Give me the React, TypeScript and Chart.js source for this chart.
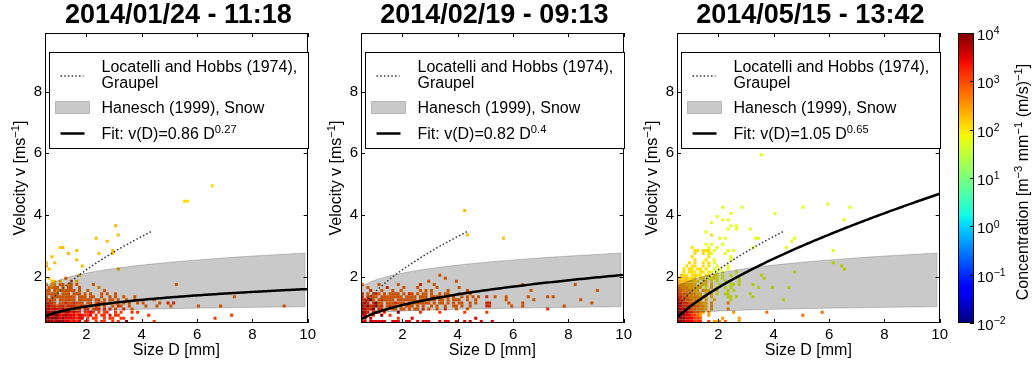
import { useEffect, useRef } from 'react';
import { Chart, registerables } from 'chart.js';

Chart.register(...registerables);

const FONT = '"Liberation Sans", Arial, Helvetica, sans-serif';
Chart.defaults.font.family = FONT;
Chart.defaults.color = '#000';

// ---------------- data ----------------
const TITLES = ['2014/01/24 - 11:18', '2014/02/19 - 09:13', '2014/05/15 - 13:42'];
const FIT_A = [0.86, 0.82, 1.05];
const FIT_B = [0.27, 0.4, 0.65];

const X_TICKS = [2, 4, 6, 8, 10];
const Y_TICKS = [2, 4, 6, 8];
const X_RANGE = [0.5, 10];
const Y_RANGE = [0.5, 9.9];
const CBAR_EXP = [-2, -1, 0, 1, 2, 3, 4];

// Hanesch (1999) snow: lower / upper power laws v = a D^b
const HANESCH_LOW = [0.83, 0.093];
const HANESCH_HIGH = [1.886, 0.167];
const HANESCH_SPAN = [0.5, 9.9];
// Locatelli and Hobbs (1974) graupel
const LOCATELLI = [1.5, 0.57];
const LOCATELLI_SPAN = [0.5, 4.4];

// log10 concentration for each cell code
const LEVEL: Record<string, number> = { D: 3.9, R: 3.5, r: 3.15, o: 2.8, a: 2.5, g: 2.25, y: 2.05, l: 1.75 };
const GRID_X0 = 0.55;
const BIN = 0.1;

// histogram rows, top row first; column j sits at D = 0.55 + 0.1 j
const P1_TOP = 1.95;
const P1_ROWS = [
  '.g.....o',
  '..gg.g...o.g',
  'o.ga.oo.ao.o.....o',
  '.oaoo.o.oo..o......a',
  'oo.oaoooooo.o..o.....o',
  'ooooo.ooo.ooo.o.o...o.o..o',
  'o.ooooooooo.ooo.oo..o..o.o..o...o',
  'rooo.oooooo.ooooo.oo.o.oo.o..o..o......o',
  'rrro.ooroorooo.oo.oroo.o.oo.o.o..o.o.....o',
  'rRrrorrorrrooro.o.ro.o..o.ro..o.....o...o',
  'RRrRrrRrrrror.rr.orr.r.r.o..r..o........',
  'DRRDRRrRRrRrr.rrRr.r.rr..r.r...r.r......',
  'DDRDDRRDRRRrRRrrR.r.rr.R.rr..........r..',
  'DDDDDRDRRRRrRR.r.rr..r.rr..rr..r........',
  'DDDRDDDRRrRrR.rr..r.rr..r.r..D.........r',
];
const P1_SPARSE: [number, number, string][] = [
  [6.55, 4.95, 'y'], [5.55, 4.45, 'y'], [5.65, 4.45, 'y'],
  [3.05, 3.65, 'g'], [3.15, 3.35, 'g'], [2.35, 3.25, 'g'], [2.75, 3.15, 'g'],
  [2.95, 2.85, 'g'], [2.95, 2.75, 'g'], [2.45, 2.75, 'g'],
  [1.05, 2.95, 'g'], [1.15, 2.95, 'g'], [0.75, 2.65, 'g'], [0.85, 2.45, 'g'],
  [1.35, 2.75, 'g'], [1.65, 2.85, 'g'], [1.65, 2.55, 'g'], [1.85, 2.35, 'g'],
  [0.55, 2.35, 'a'], [0.55, 2.45, 'g'], [0.65, 2.25, 'g'], [3.15, 2.25, 'g'], [1.75, 2.05, 'g'],
  [5.25, 1.75, 'o'], [4.95, 1.15, 'r'], [5.15, 1.15, 'r'], [5.05, 1.05, 'o'], [6.05, 1.05, 'o'],
  [6.85, 1.05, 'o'], [7.35, 1.35, 'o'], [9.15, 1.05, 'o'], [6.65, 0.65, 'r'], [7.25, 0.75, 'r'],
];

const P2_TOP = 2.05;
const P2_ROWS = [
  '............................o',
  '..............................o',
  '........................o.........o',
  'o.....o......o.......r....o',
  '..o......r.....o....o......o.......o',
  '...r...o...o..o......o.o.o.....o......o',
  'r.o.oro.o.oooo.o.ro.o.oo.o..o.oo...o...o',
  'r.rooo.oooooooo.oooo.ooo.oooo.oo.o..o.o.o.o',
  'rrrDo.oroooo.ooooooo.oooooo.oo.o.ooo..o..o',
  'rRr.rDoo.ooorooo.oooooooo.o.oo.o.o.oo..o.o',
  'RrDrrDor.oroo.o.ooo.o.o..o.o..o..oo.o..o',
  'RRrrD.rr.o.oo.oo.o.oo.r.o..o..r...o...o',
  'DRr.rDr.r....D.......r......r........r',
  'RR..r..D..r',
  '.R.R.........r....R......................R',
  'RR.RRRRRR..RRR..RR..R.RRR...R.RR..R..R.R...R',
];
const P2_SPARSE: [number, number, string][] = [
  [4.25, 4.15, 'g'], [4.35, 3.35, 'g'], [5.65, 3.25, 'g'],
  [6.35, 1.75, 'o'], [8.25, 1.75, 'o'], [9.05, 1.55, 'o'], [6.65, 1.55, 'o'], [6.55, 1.35, 'o'],
  [6.75, 1.25, 'o'], [7.25, 1.35, 'o'], [7.45, 1.35, 'o'], [5.75, 1.35, 'o'], [5.75, 1.25, 'o'],
  [5.85, 1.15, 'o'], [5.95, 1.05, 'o'], [6.35, 1.15, 'o'], [6.35, 1.05, 'o'], [5.35, 1.35, 'o'],
  [5.05, 1.35, 'r'], [5.05, 1.15, 'r'], [5.15, 1.15, 'r'], [5.05, 1.05, 'r'], [5.15, 1.05, 'r'],
  [5.05, 0.85, 'r'], [7.25, 0.95, 'r'], [7.85, 1.05, 'o'], [8.45, 1.25, 'o'], [8.85, 1.15, 'o'],
  [5.25, 0.55, 'R'],
];

const P3_TOP = 3.05;
const P3_ROWS = [
  '..........l.l',
  '.....y.....l..l',
  '......yy.yyy.l....l.l',
  '......y..y.yl....l',
  '.....y.....y.......l',
  '......y...y..l.....l',
  '....y.y..y.y.l',
  '...y.yy..y.y..l...l',
  '..y.yy.yy.y..l.l..l',
  '..y.yyy.yy.yl.l.l....l',
  '.gyy.yyyy.yy.yl.l..l',
  'ggggyyg.yy.llyl.l...l.l',
  'agggggyy.yg.y.l..l.l..l',
  'aaagggg.ygy.g..l...ll.l',
  'oaaaggggg.l.g.l..l.l',
  'ooaaaagg.agg..l...l.l',
  'roooaaagg.g.g.l..ll',
  'rrooaaaagag.g.....ll.l',
  'Rrrooaaag.g..g.....l',
  'RRrrooaaagg.a.....a',
  'RRrrroooaag.a',
  'DRRrrooaaag.a.....a',
  'DDRRrrooaa.a........a',
  'DDDRRrroa..a',
  'DDDRRRrro.......a.....a',
  'DDDRRRrrr..r.aga.o....a',
];
const P3_SPARSE: [number, number, string][] = [
  [3.55, 5.95, 'l'], [2.15, 4.25, 'l'], [2.45, 4.05, 'l'], [2.85, 4.25, 'l'], [4.05, 4.05, 'l'],
  [5.05, 4.25, 'l'], [5.95, 4.35, 'l'], [6.75, 4.25, 'l'], [6.55, 3.85, 'l'], [1.95, 3.95, 'l'],
  [1.75, 3.75, 'l'], [2.15, 3.85, 'l'], [2.35, 3.85, 'l'], [2.35, 3.55, 'l'], [2.45, 3.65, 'l'],
  [2.65, 3.65, 'l'], [2.65, 3.55, 'l'], [3.15, 3.55, 'l'], [1.55, 3.45, 'l'], [1.75, 3.35, 'y'],
  [2.05, 3.25, 'l'], [2.25, 3.25, 'l'], [3.35, 3.25, 'l'], [3.45, 3.25, 'l'], [3.25, 2.95, 'l'],
  [2.15, 3.05, 'l'], [4.45, 2.95, 'l'], [4.65, 3.15, 'l'], [4.75, 3.25, 'l'], [6.15, 2.85, 'l'],
  [6.15, 2.45, 'l'], [6.45, 2.35, 'l'], [6.55, 2.25, 'l'], [4.75, 2.15, 'l'], [3.55, 2.05, 'l'],
  [3.65, 1.95, 'l'], [3.95, 1.65, 'l'], [4.55, 1.65, 'l'], [4.35, 1.25, 'l'], [3.45, 1.65, 'l'],
  [3.25, 1.75, 'l'], [3.15, 1.45, 'l'], [3.25, 1.35, 'l'], [3.75, 0.85, 'o'], [5.05, 0.75, 'o'],
  [5.75, 0.85, 'o'],
];

const ROWS = [P1_ROWS, P2_ROWS, P3_ROWS];
const TOPS = [P1_TOP, P2_TOP, P3_TOP];
const SPARSE = [P1_SPARSE, P2_SPARSE, P3_SPARSE];

// ---------------- styling ----------------
const PANEL_LEFT = [0, 316, 632];
const BAND_FILL = 'rgba(0,0,0,0.21)';
const BAND_EDGE = 'rgba(0,0,0,0.2)';

const JET_R = [[0, 0], [0.35, 0], [0.66, 1], [0.89, 1], [1, 0.5]];
const JET_G = [[0, 0], [0.125, 0], [0.375, 1], [0.64, 1], [0.91, 0], [1, 0]];
const JET_B = [[0, 0.5], [0.11, 1], [0.34, 1], [0.65, 0], [1, 0]];

function interp(stops: number[][], t: number) {
  const u = Math.min(1, Math.max(0, t));
  for (let k = 1; k < stops.length; k++) {
    if (u <= stops[k][0]) {
      const [x0, y0] = stops[k - 1];
      const [x1, y1] = stops[k];
      return y0 + ((u - x0) / (x1 - x0)) * (y1 - y0);
    }
  }
  return stops[stops.length - 1][1];
}

function jet(t: number) {
  const c = (s: number[][]) => Math.round(255 * interp(s, t));
  return `rgb(${c(JET_R)},${c(JET_G)},${c(JET_B)})`;
}

const levelColor = (v: number) => jet((v + 2) / 6);

type Cell = { x: number; y: number; v: number };

function gridCells(rows: string[], top: number): Cell[] {
  const out: Cell[] = [];
  rows.forEach((row, i) => {
    const y = +(top - i * BIN).toFixed(2);
    for (let j = 0; j < row.length; j++) {
      const v = LEVEL[row[j]];
      if (v !== undefined) out.push({ x: +(GRID_X0 + j * BIN).toFixed(2), y, v });
    }
  });
  return out;
}

function powerCurve(a: number, b: number, d0: number, d1: number, n: number) {
  const pts: { x: number; y: number }[] = [];
  for (let k = 0; k <= n; k++) {
    const d = d0 + ((d1 - d0) * k) / n;
    pts.push({ x: d, y: a * Math.pow(d, b) });
  }
  return pts;
}

type Part = { t: string; sup?: boolean };

function drawRich(ctx: CanvasRenderingContext2D, parts: Part[], x: number, y: number, size: number, rot: number, align: 'left' | 'center') {
  const supSize = size * 0.7;
  const widths = parts.map((p) => {
    ctx.font = `${p.sup ? supSize : size}px ${FONT}`;
    return ctx.measureText(p.t).width;
  });
  const total = widths.reduce((s, w) => s + w, 0);
  ctx.save();
  ctx.translate(x, y);
  ctx.rotate(rot);
  ctx.textAlign = 'left';
  ctx.textBaseline = 'alphabetic';
  ctx.fillStyle = '#000';
  let cx = align === 'center' ? -total / 2 : 0;
  parts.forEach((p, k) => {
    ctx.font = `${p.sup ? supSize : size}px ${FONT}`;
    ctx.fillText(p.t, cx, p.sup ? -size * 0.38 : 0);
    cx += widths[k];
  });
  ctx.restore();
}

function panelPlugin(i: number) {
  return {
    id: 'panelDecor',
    afterDraw(chart: any) {
      const { ctx, chartArea: a } = chart;
      const xs = chart.scales.x;
      const ys = chart.scales.y;
      ctx.save();
      // inward ticks on all four sides
      ctx.strokeStyle = '#000';
      ctx.lineWidth = 1;
      ctx.beginPath();
      X_TICKS.forEach((v) => {
        const p = Math.round(xs.getPixelForValue(v)) + 0.5;
        ctx.moveTo(p, a.bottom);
        ctx.lineTo(p, a.bottom - 4);
        ctx.moveTo(p, a.top);
        ctx.lineTo(p, a.top + 4);
      });
      Y_TICKS.forEach((v) => {
        const p = Math.round(ys.getPixelForValue(v)) + 0.5;
        ctx.moveTo(a.left, p);
        ctx.lineTo(a.left + 4, p);
        ctx.moveTo(a.right, p);
        ctx.lineTo(a.right - 4, p);
      });
      ctx.stroke();
      // axes frame
      ctx.strokeRect(Math.round(a.left) + 0.5, Math.round(a.top) + 0.5, Math.round(a.width) - 1, Math.round(a.height) - 1);
      // title
      ctx.fillStyle = '#000';
      ctx.font = `bold 27px ${FONT}`;
      ctx.textAlign = 'center';
      ctx.textBaseline = 'middle';
      ctx.fillText(TITLES[i], (a.left + a.right) / 2 + 2, 16);
      // y axis label
      drawRich(ctx, [{ t: 'Velocity v [ms' }, { t: '\u22121', sup: true }, { t: ']' }], 25, (a.top + a.bottom) / 2, 16, -Math.PI / 2, 'center');
      // legend
      const lx = Math.round(a.left) + 4.5;
      const ly = Math.round(a.top) + 19.5;
      const lw = 259;
      const lh = 96;
      ctx.fillStyle = '#fff';
      ctx.fillRect(lx, ly, lw, lh);
      ctx.strokeStyle = '#000';
      ctx.lineWidth = 1;
      ctx.strokeRect(lx, ly, lw, lh);
      ctx.save();
      ctx.setLineDash([1.5, 2.2]);
      ctx.strokeStyle = '#333';
      ctx.lineWidth = 1.5;
      ctx.beginPath();
      ctx.moveTo(lx + 11, ly + 23.5);
      ctx.lineTo(lx + 34, ly + 23.5);
      ctx.stroke();
      ctx.restore();
      ctx.fillStyle = BAND_FILL;
      ctx.fillRect(lx + 6, ly + 49, 34, 12);
      ctx.strokeStyle = BAND_EDGE;
      ctx.strokeRect(lx + 6, ly + 49, 34, 12);
      ctx.strokeStyle = '#000';
      ctx.lineWidth = 2.5;
      ctx.beginPath();
      ctx.moveTo(lx + 11, ly + 81);
      ctx.lineTo(lx + 35, ly + 81);
      ctx.stroke();
      ctx.fillStyle = '#000';
      ctx.font = `16px ${FONT}`;
      ctx.textAlign = 'left';
      ctx.textBaseline = 'alphabetic';
      ctx.fillText('Locatelli and Hobbs (1974),', lx + 52, ly + 19.5);
      ctx.fillText('Graupel', lx + 52, ly + 35);
      ctx.fillText('Hanesch (1999), Snow', lx + 52, ly + 60.5);
      drawRich(ctx, [{ t: `Fit: v(D)=${FIT_A[i]} D` }, { t: String(FIT_B[i]), sup: true }], lx + 52, ly + 86.5, 16, 0, 'left');
      ctx.restore();
    },
  };
}

function panelConfig(i: number): any {
  const cells: Cell[] = [
    ...gridCells(ROWS[i], TOPS[i]),
    ...SPARSE[i].map(([x, y, c]) => ({ x, y, v: LEVEL[c] })),
  ];
  const lower = powerCurve(HANESCH_LOW[0], HANESCH_LOW[1], HANESCH_SPAN[0], HANESCH_SPAN[1], 80);
  const upper = powerCurve(HANESCH_HIGH[0], HANESCH_HIGH[1], HANESCH_SPAN[0], HANESCH_SPAN[1], 80);
  const edge = [lower[lower.length - 1], upper[upper.length - 1]];
  const loc = powerCurve(LOCATELLI[0], LOCATELLI[1], LOCATELLI_SPAN[0], LOCATELLI_SPAN[1], 60);
  const fit = powerCurve(FIT_A[i], FIT_B[i], X_RANGE[0], X_RANGE[1], 120);
  const line = { type: 'line', pointRadius: 0, tension: 0, fill: false };
  return {
    type: 'scatter',
    data: {
      datasets: [
        {
          type: 'scatter',
          data: cells.map((c) => ({ x: c.x, y: c.y })),
          pointStyle: 'rect',
          pointRadius: 2.12,
          pointBorderWidth: 0,
          pointBackgroundColor: cells.map((c) => levelColor(c.v)),
          order: 5,
        },
        { ...line, data: lower, borderColor: BAND_EDGE, borderWidth: 1, order: 4 },
        { ...line, data: upper, borderColor: BAND_EDGE, borderWidth: 1, fill: '-1', backgroundColor: BAND_FILL, order: 3 },
        { ...line, data: edge, borderColor: BAND_EDGE, borderWidth: 1, order: 2 },
        { ...line, data: loc, borderColor: '#333', borderWidth: 1.5, borderDash: [1.5, 2.2], order: 1 },
        { ...line, data: fit, borderColor: '#000', borderWidth: 2.5, order: 0 },
      ],
    },
    options: {
      responsive: false,
      animation: false,
      events: [],
      layout: { padding: { top: 33, right: 8, left: 0, bottom: 0 } },
      plugins: { legend: { display: false }, tooltip: { enabled: false } },
      scales: {
        x: {
          type: 'linear',
          min: X_RANGE[0],
          max: X_RANGE[1],
          afterBuildTicks: (s: any) => { s.ticks = X_TICKS.map((v) => ({ value: v })); },
          afterFit: (s: any) => { s.height = 44; },
          grid: { display: false, drawTicks: false },
          border: { display: false },
          ticks: { font: { size: 15 }, color: '#000', padding: 3, maxRotation: 0, autoSkip: false },
          title: { display: true, text: 'Size D [mm]', font: { size: 16 }, color: '#000', padding: { top: 0, bottom: 7 } },
        },
        y: {
          type: 'linear',
          min: Y_RANGE[0],
          max: Y_RANGE[1],
          afterBuildTicks: (s: any) => { s.ticks = Y_TICKS.map((v) => ({ value: v })); },
          afterFit: (s: any) => { s.width = 45; },
          grid: { display: false, drawTicks: false },
          border: { display: false },
          ticks: { font: { size: 15 }, color: '#000', padding: 3, autoSkip: false },
        },
      },
    },
    plugins: [panelPlugin(i)],
  };
}

const colorbarPlugin = {
  id: 'colorbarDecor',
  afterDraw(chart: any) {
    const { ctx, chartArea: a } = chart;
    const ys = chart.scales.y;
    ctx.save();
    ctx.strokeStyle = '#000';
    ctx.lineWidth = 1;
    ctx.strokeRect(Math.round(a.left) + 0.5, Math.round(a.top) + 0.5, Math.round(a.width) - 1, Math.round(a.height) - 1);
    ctx.beginPath();
    CBAR_EXP.forEach((e) => {
      const p = Math.round(ys.getPixelForValue(Math.pow(10, e))) + 0.5;
      ctx.moveTo(a.right, p);
      ctx.lineTo(a.right - 4, p);
    });
    ctx.stroke();
    CBAR_EXP.forEach((e) => {
      const p = ys.getPixelForValue(Math.pow(10, e));
      const exp = e < 0 ? '\u2212' + Math.abs(e) : String(e);
      drawRich(ctx, [{ t: '10', sup: false }, { t: exp, sup: true }], a.right + 3, p + 7, 15, 0, 'left');
    });
    drawRich(
      ctx,
      [
        { t: 'Concentration [m' }, { t: '\u22123', sup: true },
        { t: ' mm' }, { t: '\u22121', sup: true },
        { t: ' (m/s)' }, { t: '\u22121', sup: true }, { t: ']' },
      ],
      88, (a.top + a.bottom) / 2 + 4, 16, -Math.PI / 2, 'center',
    );
    ctx.restore();
  },
};

function colorbarConfig(): any {
  return {
    type: 'bar',
    data: {
      labels: [''],
      datasets: [
        {
          data: [[Math.pow(10, CBAR_EXP[0]), Math.pow(10, CBAR_EXP[CBAR_EXP.length - 1])]],
          backgroundColor: (c: any) => {
            const area = c.chart.chartArea;
            if (!area) return 'rgba(0,0,0,0)';
            const g = c.chart.ctx.createLinearGradient(0, area.bottom, 0, area.top);
            for (let k = 0; k <= 48; k++) g.addColorStop(k / 48, jet(k / 48));
            return g;
          },
          borderWidth: 0,
          barPercentage: 1,
          categoryPercentage: 1,
        },
      ],
    },
    options: {
      responsive: false,
      animation: false,
      events: [],
      layout: { padding: { left: 18, top: 33, bottom: 44, right: 0 } },
      plugins: { legend: { display: false }, tooltip: { enabled: false } },
      scales: {
        x: { display: false },
        y: {
          type: 'logarithmic',
          position: 'right',
          min: Math.pow(10, CBAR_EXP[0]),
          max: Math.pow(10, CBAR_EXP[CBAR_EXP.length - 1]),
          grid: { display: false, drawTicks: false },
          border: { display: false },
          ticks: { display: false },
          afterFit: (s: any) => { s.width = 58; },
        },
      },
    },
    plugins: [colorbarPlugin],
  };
}

function Panel({ idx }: { idx: number }) {
  const ref = useRef<HTMLCanvasElement>(null);
  useEffect(() => {
    const chart = new Chart(ref.current as HTMLCanvasElement, panelConfig(idx));
    return () => chart.destroy();
  }, [idx]);
  return <canvas ref={ref} width={319} height={367} style={{ position: 'absolute', left: PANEL_LEFT[idx], top: 0 }} />;
}

function Colorbar() {
  const ref = useRef<HTMLCanvasElement>(null);
  useEffect(() => {
    const chart = new Chart(ref.current as HTMLCanvasElement, colorbarConfig());
    return () => chart.destroy();
  }, []);
  return <canvas ref={ref} width={92} height={367} style={{ position: 'absolute', left: 940, top: 0 }} />;
}

export default function App() {
  return (
    <div style={{ position: 'absolute', left: 0, top: 0, width: 1032, height: 367, background: '#fff', overflow: 'hidden' }}>
      {[0, 1, 2].map((i) => (
        <Panel key={i} idx={i} />
      ))}
      <Colorbar />
    </div>
  );
}
